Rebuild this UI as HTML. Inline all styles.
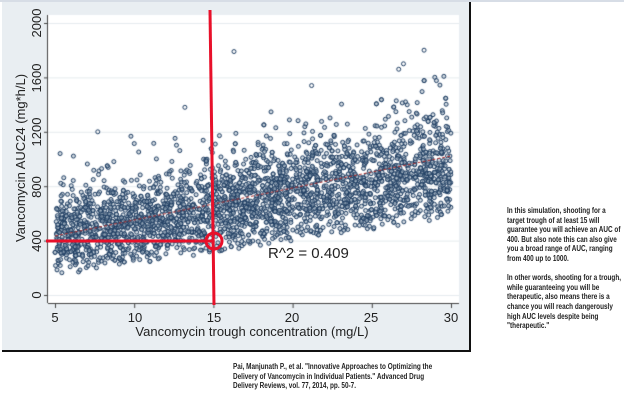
<!DOCTYPE html>
<html><head><style>
body{margin:0;width:624px;height:401px;background:#fff;position:relative;overflow:hidden;font-family:"Liberation Sans",sans-serif}
.t{position:absolute;font-family:"Liberation Sans",sans-serif;font-weight:bold;color:#222;font-size:7.8px;line-height:9.6px;transform:scaleX(0.82);transform-origin:0 0;white-space:nowrap}
</style></head><body>
<div style="position:absolute;left:0;top:0;width:624px;height:2px;background:#d7dde6"></div>
<div style="position:absolute;left:2px;top:2px;width:467px;height:348px;background:#e9eef2;border-right:2px solid #111;border-bottom:2px solid #111"></div>
<canvas id="c" width="624" height="401" style="position:absolute;left:0;top:0"></canvas>
<svg width="624" height="401" style="position:absolute;left:0;top:0" font-family="Liberation Sans, sans-serif">
<g font-size="13" fill="#222" text-anchor="middle">
<text x="55" y="322">5</text><text x="135" y="322">10</text><text x="214" y="322">15</text><text x="292" y="322">20</text><text x="371" y="322">25</text><text x="451" y="322">30</text>
<text x="252" y="336">Vancomycin trough concentration (mg/L)</text>
<g transform="rotate(-90)">
<text x="-295" y="41">0</text><text x="-241" y="41">400</text><text x="-187" y="41">800</text><text x="-132" y="41">1200</text><text x="-78" y="41">1600</text><text x="-23" y="41">2000</text>
<text x="-158" y="25">Vancomycin AUC24 (mg*h/L)</text>
</g></g>
<text x="268" y="258" font-size="15" fill="#222">R^2 = 0.409</text>
<g stroke="#e8102a" stroke-width="3" fill="none">
<line x1="210" y1="10" x2="214" y2="305"/>
<line x1="46" y1="241" x2="212" y2="241"/>
<circle cx="214" cy="241" r="8"/>
</g>
</svg>
<div class="t" style="left:507px;top:206px">In this simulation, shooting for a<br>target trough of at least 15 will<br>guarantee you will achieve an AUC of<br>400. But also note this can also give<br>you a broad range of AUC, ranging<br>from 400 up to 1000.<br><br>In other words, shooting for a trough,<br>while guaranteeing you will be<br>therapeutic, also means there is a<br>chance you will reach dangerously<br>high AUC levels despite being<br>"therapeutic."</div>
<div class="t" style="left:233px;top:362px">Pai, Manjunath P., et al. "Innovative Approaches to Optimizing the<br>Delivery of Vancomycin in Individual Patients." Advanced Drug<br>Delivery Reviews, vol. 77, 2014, pp. 50-7.</div>
<script>
const c=document.getElementById('c').getContext('2d');
c.fillStyle='#fff';c.fillRect(48,15,411,288);
const X=v=>55+(v-5)*15.84, Y=v=>295-v*0.136;
c.strokeStyle='#e6ebef';c.lineWidth=1;
for(let v=0;v<=2000;v+=400){c.beginPath();c.moveTo(48,Y(v)+.5);c.lineTo(459,Y(v)+.5);c.stroke();}
c.strokeStyle='#444';
c.beginPath();c.moveTo(48,303.5);c.lineTo(459,303.5);c.stroke();
c.beginPath();c.moveTo(47.5,15);c.lineTo(47.5,303);c.stroke();
for(let v=5;v<=30;v+=5){c.beginPath();c.moveTo(X(v)+.5,303);c.lineTo(X(v)+.5,308);c.stroke();}
for(let v=0;v<=2000;v+=400){c.beginPath();c.moveTo(44,Y(v)+.5);c.lineTo(48,Y(v)+.5);c.stroke();}
let s=12345;const r=()=>{s=(s*1103515245+12345)%2147483648;return s/2147483648;};
c.strokeStyle='#1e3d62';c.fillStyle='rgba(170,185,200,0.5)';c.lineWidth=1;
for(let i=0;i<3000;i++){
 const x=5+r()*25;
 const lo=170+17*(x-5)+(r()-0.3)*90, hi=680+24*(x-5)+(r()-0.5)*200;
 let u=(r()+r())/2; u=0.5+(u-0.5)*1.4;
 let y=lo+(hi-lo)*Math.min(1,Math.max(0,u));
 if(r()<0.03) y=hi+r()*280;
 c.beginPath();c.arc(X(x),Y(y),2,0,6.3);c.fill();c.stroke();
}
const pts=[[16.3,1790],[28.3,1800],[27,1700],[7.7,1200],[13.2,1380],[21.2,1540],[26.7,1660]];
for(const p of pts){c.beginPath();c.arc(X(p[0]),Y(p[1]),2,0,6.3);c.stroke();}
c.strokeStyle='#b03030';c.setLineDash([3,2]);c.beginPath();c.moveTo(55,236);c.lineTo(451,156);c.stroke();
</script>
</body></html>
